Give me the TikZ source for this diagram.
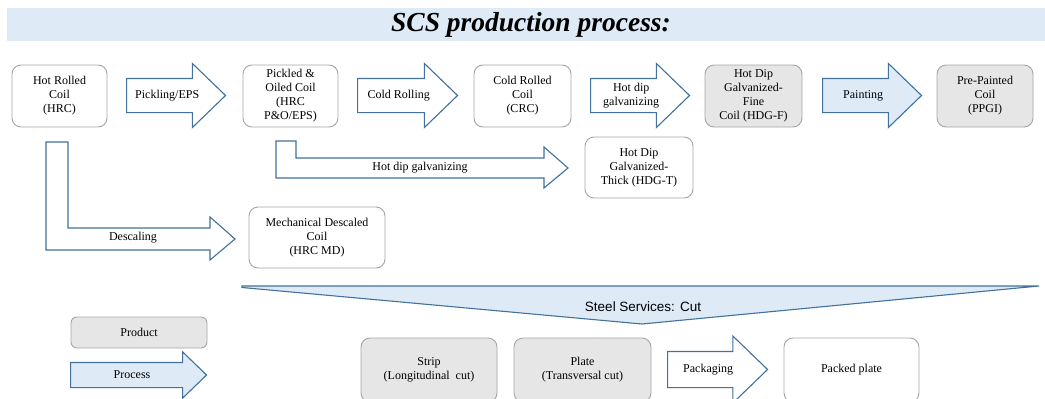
\documentclass[tikz,border=0pt]{standalone}
\usepackage{fontspec}
\setmainfont{Liberation Serif}
\setsansfont{Liberation Sans}
\usetikzlibrary{shapes.arrows,calc}

\definecolor{bandblue}{RGB}{222,235,247}
\definecolor{edgeblue}{RGB}{65,113,156}
\definecolor{boxgray}{RGB}{231,230,230}
\definecolor{edgegray}{RGB}{166,166,166}

\begin{document}
\begin{tikzpicture}[
  x=1pt, y=-1pt,
  font=\fontsize{12}{14}\selectfont,
  prod/.style={draw=edgegray, line width=0.9pt, rounded corners=9pt, align=center,
    fill=white, minimum height=62pt, inner sep=0pt},
  done/.style={prod, fill=boxgray},
  proc/.style={single arrow, draw=edgeblue, line width=1.1pt, fill=white, anchor=tail,
    single arrow tip angle=88, single arrow head extend=15pt, inner sep=0pt,
    text height=16.5pt, text depth=16.5pt, minimum height=99pt},
  flow/.style={draw=edgeblue, line width=1.1pt, fill=white},
  lbl/.style={align=center, inner sep=0pt},
  txt/.style={align=center, inner sep=0pt}
]
\useasboundingbox (0,0) rectangle (1045,399);

% title band
\fill[bandblue] (7,8) rectangle (1045,41);
\node[txt, font=\fontsize{27.5}{30}\selectfont\bfseries\itshape] (title) at (531,24.5)
  {SCS production process:};

% top row
\node[prod, minimum width=95pt] (hrc) at (59.5,96) {Hot Rolled\\Coil\\(HRC)};
\node[proc, label={[lbl]center:Pickling/EPS}] (pickle) at (126,95.5) {};
\node[prod, minimum width=95pt] (poc) at (290.5,96) {Pickled \&\\Oiled Coil\\(HRC\\P\&O/EPS)};
\node[proc, minimum height=100pt, label={[lbl]center:Cold Rolling}] (coldroll) at (357,95.5) {};
\node[prod, minimum width=97pt] (crc) at (522.5,96) {Cold Rolled\\Coil\\(CRC)};
\node[proc, label={[lbl]center:Hot dip\\galvanizing}] (hotdip) at (590,95.5) {};
\node[done, minimum width=97pt] (hdgf) at (753.5,96) {Hot Dip\\Galvanized-\\Fine\\Coil (HDG-F)};
\node[proc, fill=bandblue, label={[lbl]center:Painting}] (paint) at (822,95.5) {};
\node[done, minimum width=96pt] (ppgi) at (985,96) {Pre-Painted\\Coil\\(PPGI)};

% branches below the coils
\draw[flow] (276,141) -- (296,141) -- (296,158) -- (544,158) -- (544,147)
  -- (568,168) -- (544,188) -- (544,178) -- (276,178) -- cycle;
\node[txt] (galvthick) at (420,168) {Hot dip galvanizing};
\node[prod, minimum width=108pt, minimum height=61pt] (hdgt) at (639,167.5)
  {Hot Dip\\Galvanized-\\Thick (HDG-T)};

\draw[flow] (46,142) -- (68,142) -- (68,228) -- (210,228) -- (210,217)
  -- (235,239) -- (210,260) -- (210,250) -- (46,250) -- cycle;
\node[txt] (descale) at (133,238) {Descaling};
\node[prod, minimum width=136pt, minimum height=61pt] (hrcmd) at (317,237.5)
  {Mechanical Descaled\\Coil\\(HRC MD)};

% steel services
\draw[flow, fill=bandblue] (242,286) -- (1039,286) -- (642,324) -- (242,287.5) -- cycle;
\node[txt, font=\sffamily\fontsize{13.5}{16}\selectfont] (cut) at (643,307) {Steel Services: Cut};

\node[done, minimum width=136pt, minimum height=64pt] (strip) at (429,370)
  {Strip\\(Longitudinal\ \ cut)};
\node[done, minimum width=137pt, minimum height=64pt] (plate) at (582.5,370)
  {Plate\\(Transversal cut)};
\node[proc, minimum height=100pt, text height=17.5pt, text depth=17.5pt,
  single arrow head extend=15.5pt, label={[lbl]center:Packaging}] (pack) at (667,369.5) {};
\node[prod, minimum width=135pt, minimum height=64pt] (packed) at (851.5,370) {Packed plate};

% legend
\node[done, minimum width=136pt, minimum height=31pt, rounded corners=6pt] (legprod) at (139,332.5) {Product};
\node[proc, fill=bandblue, minimum height=136pt, text height=12pt, text depth=12pt,
  single arrow head extend=10.5pt, label={[lbl]center:Process}] (legproc) at (70,375) {};

\end{tikzpicture}
\end{document}
